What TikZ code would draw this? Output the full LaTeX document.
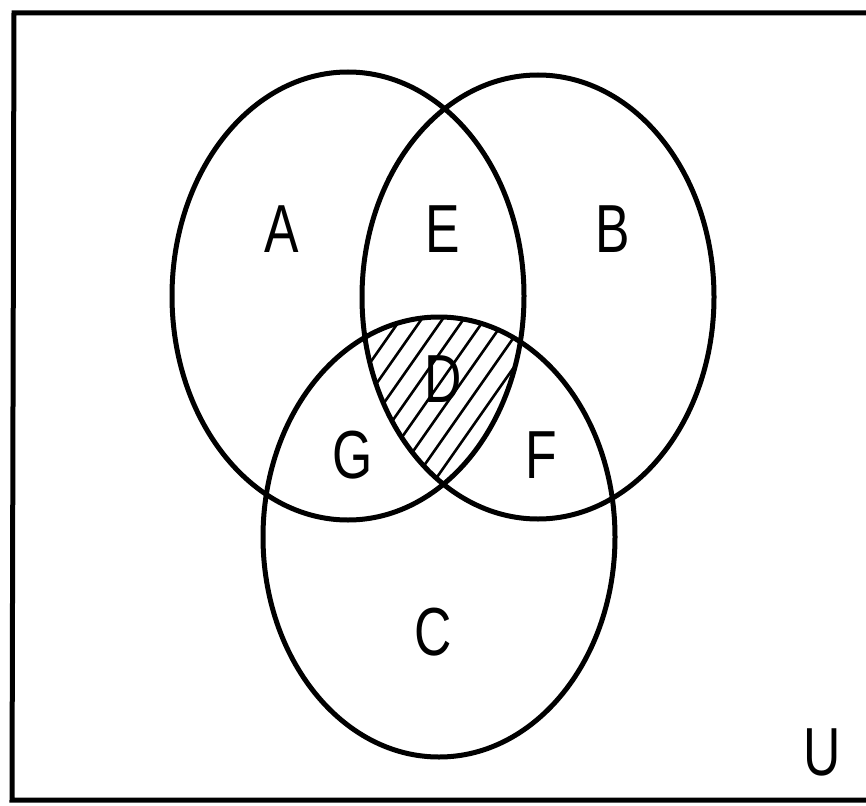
\documentclass[tikz,border=0pt]{standalone}
\usepackage{fontspec}
\setmainfont{Liberation Sans}
\begin{document}
\begin{tikzpicture}[x=1pt,y=-1pt,
  setline/.style={line width=5pt},
  lbl/.style={font=\fontsize{68}{68}\selectfont, inner sep=0pt, anchor=center, xscale=0.76},
  hatch/.style={line width=2.6pt}]
\useasboundingbox (0,0) rectangle (866,805);
\clip (0,0) rectangle (866,805);
% universe frame
\draw[line width=5pt] (880,13) -- (14,13) -- (12,800) -- (880,800);
% hatching of the triple intersection
\begin{scope}
  \clip (348,296) ellipse [x radius=176, y radius=224];
  \clip (538,297) ellipse [x radius=176, y radius=222];
  \clip (439,537) ellipse [x radius=176, y radius=220];
  \foreach \i in {-10,...,14} {
    \draw[hatch] (302+\i*21,520) -- (302+\i*21+168,280);
  }
\end{scope}
% sets
\draw[setline] (348,296) ellipse [x radius=176, y radius=224];
\draw[setline] (538,297) ellipse [x radius=176, y radius=222];
\draw[setline] (439,537) ellipse [x radius=176, y radius=220];
% labels
\node[lbl] (la) at (282,229) {A};
\node[lbl] (le) at (443,229) {E};
\node[lbl] (lb) at (613,229) {B};
\node[lbl] (ld) at (443,379) {D};
\node[lbl] (lg) at (353,455) {G};
\node[lbl] (lf) at (541,455) {F};
\node[lbl] (lc) at (433,632) {C};
\node[lbl] (lu) at (822,752) {U};
\end{tikzpicture}
\end{document}
